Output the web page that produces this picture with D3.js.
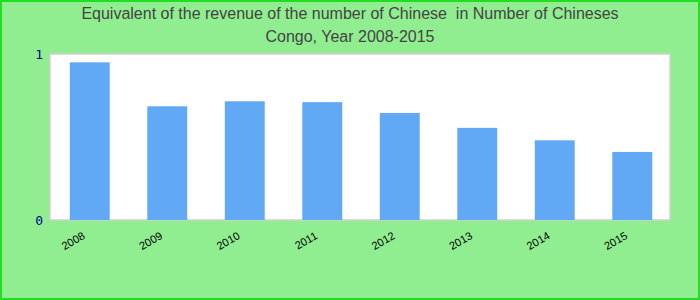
<!DOCTYPE html>
<html>
<head>
<meta charset="utf-8">
<script src="https://cdn.jsdelivr.net/npm/d3@7"></script>
<style>
  body { margin: 0; }
  svg { display: block; }
</style>
</head>
<body>
<div id="chart"></div>
<script>
var years = ["2008", "2009", "2010", "2011", "2012", "2013", "2014", "2015"];
var values = [0.95, 0.685, 0.715, 0.71, 0.645, 0.555, 0.48, 0.41];
var yTicks = [0, 1];
var titleLines = ["Equivalent of the revenue of the number of Chinese  in Number of Chineses", "Congo, Year 2008-2015"];

var width = 700, height = 300;
var plot = { left: 50, top: 54, right: 670, bottom: 220 };

var svg = d3.select("#chart").append("svg")
  .attr("width", width)
  .attr("height", height);

// background + outer border
svg.append("rect")
  .attr("x", 1).attr("y", 1)
  .attr("width", width - 2).attr("height", height - 2)
  .attr("fill", "#90ee90")
  .attr("stroke", "#22dd22")
  .attr("stroke-width", 2);

// title
svg.selectAll("text.title")
  .data(titleLines)
  .enter().append("text")
  .attr("class", "title")
  .attr("x", 350)
  .attr("y", function(d, i) { return 19 + i * 23; })
  .attr("text-anchor", "middle")
  .attr("font-family", "Liberation Sans, Arial, sans-serif")
  .attr("font-size", 16)
  .attr("fill", "#444")
  .style("white-space", "pre")
  .text(function(d) { return d; });

// plot area
svg.append("rect")
  .attr("x", plot.left).attr("y", plot.top)
  .attr("width", plot.right - plot.left)
  .attr("height", plot.bottom - plot.top)
  .attr("fill", "#fff")
  .attr("stroke", "#d0d0d0")
  .attr("stroke-width", 1.5);

var x = d3.scaleBand()
  .domain(years)
  .range([plot.left + 1, plot.right + 1])
  .paddingInner(0.485)
  .paddingOuter(0.2425);

var y = d3.scaleLinear()
  .domain([0, 1])
  .range([plot.bottom, plot.top]);

svg.append("g")
  .selectAll("rect")
  .data(values)
  .enter().append("rect")
  .attr("x", function(d, i) { return x(years[i]); })
  .attr("y", function(d) { return y(d); })
  .attr("width", x.bandwidth())
  .attr("height", function(d) { return y(0) - y(d); })
  .attr("fill", "#62a9f5");

// y labels
var yAxis = svg.append("g")
  .attr("transform", "translate(" + (plot.left - 7) + ",0)")
  .call(d3.axisLeft(y).tickValues(yTicks).tickSize(0).tickPadding(0).tickFormat(d3.format("d")));
yAxis.select(".domain").remove();
yAxis.selectAll("text")
  .attr("font-family", "DejaVu Sans Mono, monospace")
  .attr("font-size", 13)
  .attr("fill", "#00008b");

// x labels
var xAxis = svg.append("g")
  .attr("transform", "translate(0," + plot.bottom + ")")
  .call(d3.axisBottom(x).tickSize(0));
xAxis.select(".domain").remove();
xAxis.selectAll("text")
  .attr("font-family", "Liberation Sans, Arial, sans-serif")
  .attr("font-size", 11)
  .attr("fill", "#000")
  .attr("text-anchor", "end")
  .attr("dy", 0)
  .attr("y", 0)
  .attr("transform", "translate(-4,18) rotate(-30)");
</script>
</body>
</html>
